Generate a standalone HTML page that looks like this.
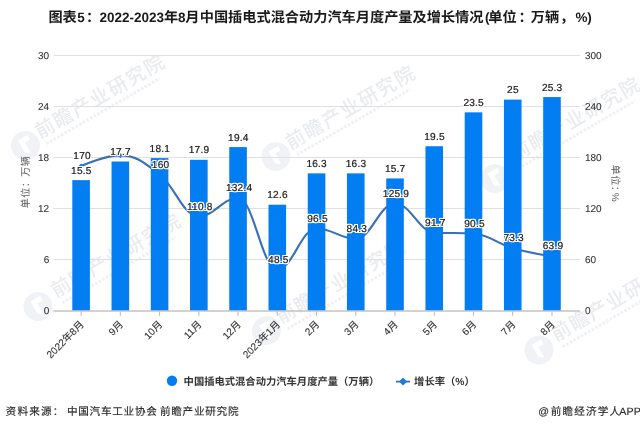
<!DOCTYPE html>
<html lang="zh-CN"><head><meta charset="utf-8"><title>图表5</title>
<style>
html,body{margin:0;padding:0;background:#fff;}
body{width:640px;height:429px;overflow:hidden;font-family:"Liberation Sans","Noto Sans CJK SC",sans-serif;}
svg{display:block;}
text{font-family:"Liberation Sans","Noto Sans CJK SC",sans-serif;text-rendering:geometricPrecision;}
.t{font-size:14.2px;font-weight:bold;fill:#1a1a1a;}
.t .l{font-size:13.5px;}
.ax{font-size:10px;fill:#333;stroke:#333;stroke-width:0.1px;}
.axt{font-size:10px;fill:#606060;letter-spacing:0.5px;}
.dl{font-size:10.1px;letter-spacing:0.2px;fill:#1c1c1c;stroke:#1c1c1c;stroke-width:0.22px;filter:url(#halo);}
.lg{font-size:10.3px;font-weight:bold;fill:#333;}
.src{font-size:10.6px;fill:#2a2a2a;stroke:#2a2a2a;stroke-width:0.15px;letter-spacing:0.75px;}
.wm{font-size:19.5px;font-weight:500;fill:#e9ebef;letter-spacing:1.5px;}
</style></head><body>
<svg width="640" height="429" viewBox="0 0 640 429">
<defs><filter id="halo" x="-30%" y="-30%" width="160%" height="160%" color-interpolation-filters="sRGB">
<feMorphology in="SourceAlpha" operator="dilate" radius="1" result="m"/>
<feGaussianBlur in="m" stdDeviation="0.5" result="g"/>
<feComponentTransfer in="g" result="d"><feFuncA type="linear" slope="1.4" intercept="0"/></feComponentTransfer>
<feFlood flood-color="#fff" flood-opacity="1"/><feComposite in2="d" operator="in" result="h"/>
<feMerge><feMergeNode in="h"/><feMergeNode in="SourceGraphic"/></feMerge></filter></defs>
<rect width="640" height="429" fill="#fff"/>
<g transform="translate(25.5,145.5) rotate(-30)"><circle cx="0" cy="0" r="14.5" fill="#f0f2f5"/><path transform="translate(0,0)" d="M-4,-8 L7,-8 L7,-3 L1,-3 L1,9 L-4,6 Z" fill="#fff"/><text class="wm" x="15.8" y="1.5">前瞻产业研究院</text><line x1="19" x2="150" y1="9" y2="9" stroke="#eff1f4" stroke-width="3" stroke-dasharray="2.6 1.6"/></g>
<g transform="translate(276,156.5) rotate(-30)"><circle cx="0" cy="0" r="14.5" fill="#f0f2f5"/><path transform="translate(0,0)" d="M-4,-8 L7,-8 L7,-3 L1,-3 L1,9 L-4,6 Z" fill="#fff"/><text class="wm" x="15.8" y="1.5">前瞻产业研究院</text><line x1="19" x2="150" y1="9" y2="9" stroke="#eff1f4" stroke-width="3" stroke-dasharray="2.6 1.6"/></g>
<g transform="translate(501,168) rotate(-30)"><circle cx="-10.5" cy="6" r="14.5" fill="#f0f2f5"/><path transform="translate(-10.5,6)" d="M-4,-8 L7,-8 L7,-3 L1,-3 L1,9 L-4,6 Z" fill="#fff"/><text class="wm" x="15.8" y="1.5">前瞻产业研究院</text><line x1="19" x2="150" y1="9" y2="9" stroke="#eff1f4" stroke-width="3" stroke-dasharray="2.6 1.6"/></g>
<g transform="translate(38,306.5) rotate(-30)"><circle cx="0" cy="0" r="14.5" fill="#f0f2f5"/><path transform="translate(0,0)" d="M-4,-8 L7,-8 L7,-3 L1,-3 L1,9 L-4,6 Z" fill="#fff"/><text class="wm" x="19.8" y="1.5">前瞻产业研究院</text><line x1="23" x2="154" y1="9" y2="9" stroke="#eff1f4" stroke-width="3" stroke-dasharray="2.6 1.6"/></g>
<g transform="translate(266.5,330.5) rotate(-30)"><circle cx="0" cy="0" r="14.5" fill="#f0f2f5"/><path transform="translate(0,0)" d="M-4,-8 L7,-8 L7,-3 L1,-3 L1,9 L-4,6 Z" fill="#fff"/><text class="wm" x="15.8" y="1.5">前瞻产业研究院</text><line x1="19" x2="150" y1="9" y2="9" stroke="#eff1f4" stroke-width="3" stroke-dasharray="2.6 1.6"/></g>
<g transform="translate(539,350) rotate(-30)"><circle cx="0" cy="0" r="14.5" fill="#f0f2f5"/><path transform="translate(0,0)" d="M-4,-8 L7,-8 L7,-3 L1,-3 L1,9 L-4,6 Z" fill="#fff"/><text class="wm" x="18.8" y="1.5">前瞻产业研究院</text><line x1="22" x2="153" y1="9" y2="9" stroke="#eff1f4" stroke-width="3" stroke-dasharray="2.6 1.6"/></g>
<text class="t" y="22.3"><tspan x="48.4">图表</tspan><tspan class="l" x="77.3">5</tspan><tspan x="86">：</tspan><tspan class="l" x="99.5">2022-2023</tspan><tspan x="163.9">年</tspan><tspan class="l" x="178.1">8</tspan><tspan x="185.2">月</tspan><tspan x="199.7">中国插电式混合动力汽车月度产量及增长情况</tspan><tspan class="l" x="485">(</tspan><tspan x="488.3">单位</tspan><tspan x="518.5">：</tspan><tspan x="530.8">万辆</tspan><tspan x="560">，</tspan><tspan class="l" x="575.5">%</tspan><tspan class="l" x="587.2">)</tspan></text>
<line x1="53.5" x2="580.0" y1="259.5" y2="259.5" stroke="#e0e0e0" stroke-width="1"/>
<line x1="53.5" x2="580.0" y1="208.5" y2="208.5" stroke="#e0e0e0" stroke-width="1"/>
<line x1="53.5" x2="580.0" y1="157.5" y2="157.5" stroke="#e0e0e0" stroke-width="1"/>
<line x1="53.5" x2="580.0" y1="106.5" y2="106.5" stroke="#e0e0e0" stroke-width="1"/>
<line x1="53.5" x2="580.0" y1="55.5" y2="55.5" stroke="#e0e0e0" stroke-width="1"/>
<path d="M81.10,166.00 C81.10,166.00 104.64,155.38 120.34,155.38 C136.04,155.38 143.88,162.31 159.58,174.50 C175.28,186.69 183.12,216.32 198.82,216.32 C214.52,216.32 222.36,197.96 238.06,197.96 C253.76,197.96 261.60,269.27 277.30,269.27 C293.00,269.27 300.84,228.47 316.54,228.47 C332.24,228.47 340.08,238.84 355.78,238.84 C371.48,238.84 379.32,203.49 395.02,203.49 C410.72,203.49 418.56,231.54 434.26,232.56 C449.96,233.57 457.80,232.56 473.50,233.57 C489.20,234.59 497.04,243.67 512.74,248.19 C528.44,252.72 551.98,256.19 551.98,256.19" fill="none" stroke="#3770b6" stroke-width="2.1" stroke-linejoin="round" stroke-linecap="round"/>
<path d="M81.10,163.40 L83.70,166.00 L81.10,168.60 L78.50,166.00 Z" fill="#2079dc"/>
<path d="M120.34,152.78 L122.94,155.38 L120.34,157.97 L117.74,155.38 Z" fill="#2079dc"/>
<path d="M159.58,171.90 L162.18,174.50 L159.58,177.10 L156.98,174.50 Z" fill="#2079dc"/>
<path d="M198.82,213.72 L201.42,216.32 L198.82,218.92 L196.22,216.32 Z" fill="#2079dc"/>
<path d="M238.06,195.36 L240.66,197.96 L238.06,200.56 L235.46,197.96 Z" fill="#2079dc"/>
<path d="M277.30,266.67 L279.90,269.27 L277.30,271.88 L274.70,269.27 Z" fill="#2079dc"/>
<path d="M316.54,225.88 L319.14,228.47 L316.54,231.07 L313.94,228.47 Z" fill="#2079dc"/>
<path d="M355.78,236.25 L358.38,238.84 L355.78,241.44 L353.18,238.84 Z" fill="#2079dc"/>
<path d="M395.02,200.89 L397.62,203.49 L395.02,206.09 L392.42,203.49 Z" fill="#2079dc"/>
<path d="M434.26,229.96 L436.86,232.56 L434.26,235.16 L431.66,232.56 Z" fill="#2079dc"/>
<path d="M473.50,230.97 L476.10,233.57 L473.50,236.17 L470.90,233.57 Z" fill="#2079dc"/>
<path d="M512.74,245.59 L515.34,248.19 L512.74,250.79 L510.14,248.19 Z" fill="#2079dc"/>
<path d="M551.98,253.59 L554.58,256.19 L551.98,258.79 L549.38,256.19 Z" fill="#2079dc"/>
<rect x="72.30" y="180.14" width="17.6" height="130.66" fill="#037ef2"/>
<rect x="111.54" y="161.49" width="17.6" height="149.31" fill="#037ef2"/>
<rect x="150.78" y="158.10" width="17.6" height="152.70" fill="#037ef2"/>
<rect x="190.02" y="159.80" width="17.6" height="151.00" fill="#037ef2"/>
<rect x="229.26" y="147.09" width="17.6" height="163.72" fill="#037ef2"/>
<rect x="268.50" y="204.72" width="17.6" height="106.09" fill="#037ef2"/>
<rect x="307.74" y="173.36" width="17.6" height="137.44" fill="#037ef2"/>
<rect x="346.98" y="173.36" width="17.6" height="137.44" fill="#037ef2"/>
<rect x="386.22" y="178.44" width="17.6" height="132.36" fill="#037ef2"/>
<rect x="425.46" y="146.24" width="17.6" height="164.56" fill="#037ef2"/>
<rect x="464.70" y="112.34" width="17.6" height="198.46" fill="#037ef2"/>
<rect x="503.94" y="99.62" width="17.6" height="211.18" fill="#037ef2"/>
<rect x="543.18" y="97.08" width="17.6" height="213.72" fill="#037ef2"/>
<line x1="53.5" x2="580.0" y1="310.95" y2="310.95" stroke="#c6c2be" stroke-width="1.5"/>
<line x1="81.1" x2="81.1" y1="311.5" y2="315.8" stroke="#bdb8b3" stroke-width="1"/>
<line x1="120.3" x2="120.3" y1="311.5" y2="315.8" stroke="#bdb8b3" stroke-width="1"/>
<line x1="159.6" x2="159.6" y1="311.5" y2="315.8" stroke="#bdb8b3" stroke-width="1"/>
<line x1="198.8" x2="198.8" y1="311.5" y2="315.8" stroke="#bdb8b3" stroke-width="1"/>
<line x1="238.1" x2="238.1" y1="311.5" y2="315.8" stroke="#bdb8b3" stroke-width="1"/>
<line x1="277.3" x2="277.3" y1="311.5" y2="315.8" stroke="#bdb8b3" stroke-width="1"/>
<line x1="316.5" x2="316.5" y1="311.5" y2="315.8" stroke="#bdb8b3" stroke-width="1"/>
<line x1="355.8" x2="355.8" y1="311.5" y2="315.8" stroke="#bdb8b3" stroke-width="1"/>
<line x1="395.0" x2="395.0" y1="311.5" y2="315.8" stroke="#bdb8b3" stroke-width="1"/>
<line x1="434.3" x2="434.3" y1="311.5" y2="315.8" stroke="#bdb8b3" stroke-width="1"/>
<line x1="473.5" x2="473.5" y1="311.5" y2="315.8" stroke="#bdb8b3" stroke-width="1"/>
<line x1="512.7" x2="512.7" y1="311.5" y2="315.8" stroke="#bdb8b3" stroke-width="1"/>
<line x1="552.0" x2="552.0" y1="311.5" y2="315.8" stroke="#bdb8b3" stroke-width="1"/>
<text class="dl" x="81.3" y="173.6" text-anchor="middle">15.5</text>
<text class="dl" x="120.5" y="155.0" text-anchor="middle">17.7</text>
<text class="dl" x="159.8" y="151.6" text-anchor="middle">18.1</text>
<text class="dl" x="199.0" y="153.3" text-anchor="middle">17.9</text>
<text class="dl" x="238.3" y="140.6" text-anchor="middle">19.4</text>
<text class="dl" x="277.5" y="198.2" text-anchor="middle">12.6</text>
<text class="dl" x="316.7" y="166.9" text-anchor="middle">16.3</text>
<text class="dl" x="356.0" y="166.9" text-anchor="middle">16.3</text>
<text class="dl" x="395.2" y="171.9" text-anchor="middle">15.7</text>
<text class="dl" x="434.5" y="139.7" text-anchor="middle">19.5</text>
<text class="dl" x="473.7" y="105.8" text-anchor="middle">23.5</text>
<text class="dl" x="512.9" y="93.1" text-anchor="middle">25</text>
<text class="dl" x="552.2" y="90.6" text-anchor="middle">25.3</text>
<text class="dl" x="82.1" y="159.2" text-anchor="middle">170</text>
<text class="dl" x="160.6" y="167.7" text-anchor="middle">160</text>
<text class="dl" x="199.8" y="209.5" text-anchor="middle">110.8</text>
<text class="dl" x="239.1" y="191.2" text-anchor="middle">132.4</text>
<text class="dl" x="278.3" y="262.5" text-anchor="middle">48.5</text>
<text class="dl" x="317.5" y="221.7" text-anchor="middle">96.5</text>
<text class="dl" x="356.8" y="232.0" text-anchor="middle">84.3</text>
<text class="dl" x="396.0" y="196.7" text-anchor="middle">125.9</text>
<text class="dl" x="435.3" y="225.8" text-anchor="middle">91.7</text>
<text class="dl" x="474.5" y="226.8" text-anchor="middle">90.5</text>
<text class="dl" x="513.7" y="241.4" text-anchor="middle">73.3</text>
<text class="dl" x="553.0" y="249.4" text-anchor="middle">63.9</text>
<text class="ax" x="49.2" y="314.1" text-anchor="end">0</text>
<text class="ax" x="585" y="314.1" text-anchor="start">0</text>
<text class="ax" x="49.2" y="263.1" text-anchor="end">6</text>
<text class="ax" x="585" y="263.1" text-anchor="start">60</text>
<text class="ax" x="49.2" y="212.1" text-anchor="end">12</text>
<text class="ax" x="585" y="212.1" text-anchor="start">120</text>
<text class="ax" x="49.2" y="161.1" text-anchor="end">18</text>
<text class="ax" x="585" y="161.1" text-anchor="start">180</text>
<text class="ax" x="49.2" y="110.1" text-anchor="end">24</text>
<text class="ax" x="585" y="110.1" text-anchor="start">240</text>
<text class="ax" x="49.2" y="59.1" text-anchor="end">30</text>
<text class="ax" x="585" y="59.1" text-anchor="start">300</text>
<text class="axt" transform="translate(28.6,182) rotate(-90)" text-anchor="middle">单位：万辆</text>
<text class="axt" transform="translate(612.2,183.5) rotate(90)" text-anchor="middle">单位：<tspan dx="-3.5">%</tspan></text>
<text class="ax" transform="translate(84.6,325.0) rotate(-45)" text-anchor="end">2022年8月</text>
<text class="ax" transform="translate(123.8,325.0) rotate(-45)" text-anchor="end">9月</text>
<text class="ax" transform="translate(163.1,325.0) rotate(-45)" text-anchor="end">10月</text>
<text class="ax" transform="translate(202.3,325.0) rotate(-45)" text-anchor="end">11月</text>
<text class="ax" transform="translate(241.6,325.0) rotate(-45)" text-anchor="end">12月</text>
<text class="ax" transform="translate(280.8,325.0) rotate(-45)" text-anchor="end">2023年1月</text>
<text class="ax" transform="translate(320.0,325.0) rotate(-45)" text-anchor="end">2月</text>
<text class="ax" transform="translate(359.3,325.0) rotate(-45)" text-anchor="end">3月</text>
<text class="ax" transform="translate(398.5,325.0) rotate(-45)" text-anchor="end">4月</text>
<text class="ax" transform="translate(437.8,325.0) rotate(-45)" text-anchor="end">5月</text>
<text class="ax" transform="translate(477.0,325.0) rotate(-45)" text-anchor="end">6月</text>
<text class="ax" transform="translate(516.2,325.0) rotate(-45)" text-anchor="end">7月</text>
<text class="ax" transform="translate(555.5,325.0) rotate(-45)" text-anchor="end">8月</text>
<circle cx="172" cy="380.8" r="5.2" fill="#037ef2"/>
<text class="lg" x="183.6" y="384.6">中国插电式混合动力汽车月度产量（万辆）</text>
<line x1="396" x2="410" y1="381.6" y2="381.6" stroke="#3770b6" stroke-width="1.8"/>
<path d="M403.1,378 L406.7,381.6 L403.1,385.2 L399.5,381.6 Z" fill="#2079dc" stroke="#2079dc" stroke-width="0.8" stroke-linejoin="round"/>
<text class="lg" x="414.1" y="384.6">增长率（%）</text>
<text class="src" y="415.2"><tspan x="5.6" style="letter-spacing:1.2px">资料来源：</tspan><tspan x="66.9">中国汽车工业协会</tspan><tspan x="156.2"> 前瞻产业研究院</tspan></text>
<text class="src" y="415.2"><tspan x="538.3">@</tspan><tspan x="550.7" style="letter-spacing:1.15px">前瞻经济学人</tspan><tspan x="619.3" style="letter-spacing:0.1px">APP</tspan></text>
</svg>
</body></html>
